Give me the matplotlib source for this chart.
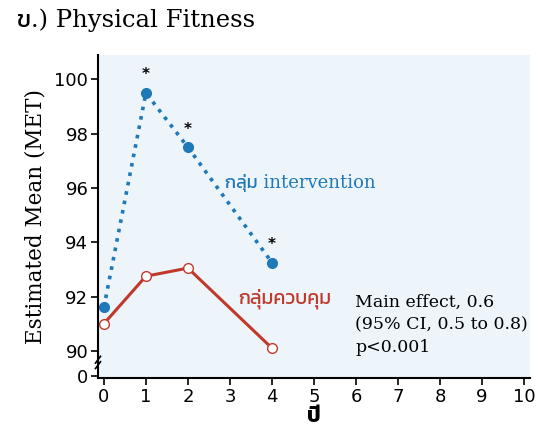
import matplotlib.pyplot as plt

years = [0, 1, 2, 4]
intervention = [91.6, 99.5, 97.5, 93.25]
control = [91.0, 92.75, 93.05, 90.1]
star_years = [1, 2, 4]
yticks = [90, 92, 94, 96, 98, 100]
xticks = list(range(0, 11))

blue = '#1f78b8'
red = '#c0392b'
serif = ['DejaVu Serif', 'Kanit']
sans = ['DejaVu Sans', 'Kanit']

fig = plt.figure(figsize=(5.38, 4.43), dpi=100)
ax = fig.add_axes([98 / 538, 65 / 443, 432 / 538, 323 / 443])
ax.set_facecolor('#edf5fb')

ax.plot(years, intervention, ':', color=blue, lw=2.6, marker='o', ms=7,
        markerfacecolor=blue, markeredgecolor=blue, zorder=3)
ax.plot(years, control, '-', color=red, lw=2.2, marker='o', ms=7,
        markerfacecolor='white', markeredgecolor=red, zorder=3)

for x in star_years:
    y = intervention[years.index(x)]
    ax.annotate('*', (x, y), xytext=(0, 13), textcoords='offset points',
                ha='center', va='center', fontsize=11, fontweight='bold')

ax.set_xlim(-0.14, 10.14)
ax.set_ylim(89.0, 100.9)
ax.set_xticks(xticks)
ax.set_xticklabels([str(t) for t in xticks], fontsize=13)
ax.set_yticks([89.08] + yticks)
ax.set_yticklabels(['0'] + [str(t) for t in yticks], fontsize=13)
ax.tick_params(direction='out', length=5, width=1.2, pad=2)

for s in ['top', 'right']:
    ax.spines[s].set_visible(False)
ax.spines['left'].set_linewidth(1.5)
ax.spines['bottom'].set_linewidth(1.5)

# axis break marks
ax.plot([-0.2, -0.08], [89.35, 89.6], color='black', lw=1.2, clip_on=False)
ax.plot([-0.2, -0.08], [89.55, 89.8], color='black', lw=1.2, clip_on=False)

ax.text(2.88, 96.18, 'กลุ่ม intervention', color=blue, fontsize=13,
        family=serif, ha='left', va='center')
ax.text(3.19, 91.93, 'กลุ่มควบคุม', color=red, fontsize=14,
        family=serif, ha='left', va='center')
ax.text(5.98, 90.95, 'Main effect, 0.6\n(95% CI, 0.5 to 0.8)\np<0.001',
        fontsize=12.5, family=serif, ha='left', va='center', linespacing=1.45)

ax.set_ylabel('Estimated Mean (MET)', fontsize=15.5, family=serif, labelpad=6)
ax.set_xlabel('ปี', fontsize=15, fontweight='bold', family=sans, labelpad=0)

fig.text(17 / 538, 1 - 20 / 443, 'ข.) Physical Fitness', fontsize=17.5,
         family=serif, ha='left', va='center')

fig.savefig('out.png', dpi=100)
